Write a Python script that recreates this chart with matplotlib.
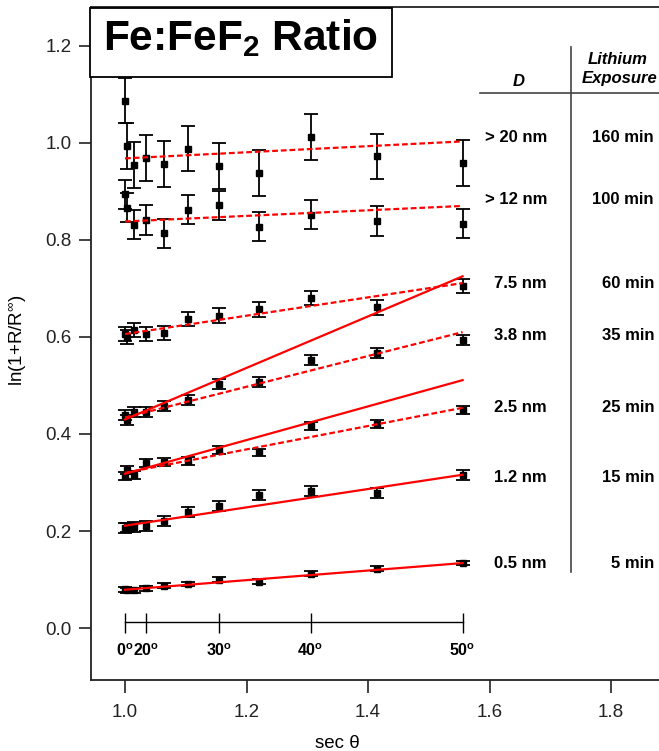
#!/usr/bin/env python3

import matplotlib
matplotlib.use('Agg')

import numpy as np
import matplotlib.pyplot as plt
from matplotlib.patches import Rectangle

# take-off angles (deg) and the angle-axis labels
angles = [0, 5, 10, 15, 20, 25, 30, 35, 40, 45, 50]
angle_ticks = [0, 15, 30, 40, 50]
angle_tick_labels = ["0", "20", "30", "40", "50"]

# ln(1+R/Rinf) per layer thickness, one value per angle
ratio_20nm = [1.087, 0.994, 0.955, 0.969, 0.957, 0.988, 0.952, 0.938, 1.012, 0.972, 0.958]
ratio_12nm = [0.894, 0.866, 0.831, 0.841, 0.814, 0.862, 0.871, 0.827, 0.852, 0.839, 0.833]
ratio_7p5nm = [0.606, 0.600, 0.614, 0.606, 0.608, 0.637, 0.644, 0.657, 0.680, 0.661, 0.705]
ratio_3p8nm = [0.439, 0.429, 0.446, 0.445, 0.457, 0.470, 0.503, 0.507, 0.552, 0.567, 0.594]
ratio_2p5nm = [0.313, 0.326, 0.316, 0.340, 0.342, 0.344, 0.367, 0.362, 0.417, 0.421, 0.449]
ratio_1p2nm = [0.206, 0.207, 0.209, 0.210, 0.221, 0.239, 0.252, 0.274, 0.282, 0.278, 0.315]
ratio_0p5nm = [0.080, 0.078, 0.078, 0.082, 0.087, 0.091, 0.100, 0.096, 0.112, 0.122, 0.134]

# error bar half-widths per series
err_20nm = 0.047
err_12nm = 0.030
err_7p5nm = 0.015
err_3p8nm = 0.010
err_2p5nm = 0.008
err_1p2nm = 0.010
err_0p5nm = 0.005

# linear fits: value at 0 deg and at 50 deg
fit_solid = {
    "0.5": (0.079, 0.134),
    "1.2": (0.211, 0.316),
    "2.5": (0.318, 0.511),
    "3.8": (0.430, 0.725),
}
fit_dashed = {
    "2.5": (0.320, 0.454),
    "3.8": (0.434, 0.610),
    "7.5": (0.606, 0.711),
    "12": (0.838, 0.870),
    "20": (0.968, 1.003),
}

thickness_labels = ["> 20 nm", "> 12 nm", "7.5 nm", "3.8 nm", "2.5 nm", "1.2 nm", "0.5 nm"]
exposure_labels = ["160 min", "100 min", "60 min", "35 min", "25 min", "15 min", "5 min"]

W, H = 659, 751


def fx(px):
    return px / W


def fy(py):
    return 1 - py / H


def sec(deg):
    return 1 / np.cos(np.radians(deg))


def main():
    plt.rcParams.update({'font.family': 'Liberation Sans'})
    plt.rcParams.update({'mathtext.fontset': 'custom'})
    plt.rcParams.update({'mathtext.rm': 'Liberation Sans'})
    plt.rcParams.update({'mathtext.it': 'Liberation Sans:italic'})
    plt.rcParams.update({'mathtext.bf': 'Liberation Sans:bold'})

    fig = plt.figure(figsize=(W / 100, H / 100), dpi=100)
    ax = fig.add_axes([fx(91), fy(680), fx(659 - 91), (680 - 7) / H])

    xs = sec(np.array(angles))
    series = [
        (ratio_20nm, err_20nm), (ratio_12nm, err_12nm), (ratio_7p5nm, err_7p5nm),
        (ratio_3p8nm, err_3p8nm), (ratio_2p5nm, err_2p5nm), (ratio_1p2nm, err_1p2nm),
        (ratio_0p5nm, err_0p5nm),
    ]
    for ys, err in series:
        ax.errorbar(xs, ys, yerr=err, fmt='s', color='black', ms=4.2,
                    elinewidth=1.3, capsize=4.8, capthick=1.3, zorder=2)

    fit_x = [sec(angles[0]), sec(angles[-1])]
    for key in fit_solid:
        ax.plot(fit_x, fit_solid[key], color='red', lw=1.6, zorder=3)
    for key in fit_dashed:
        ax.plot(fit_x, fit_dashed[key], color='red', lw=1.6, zorder=3,
                dashes=(2.6, 1.3))

    # angle scale drawn inside the plot along sec(theta)
    ax.plot([sec(angles[0]), sec(angles[-1])], [0.012, 0.012], color='black',
            lw=1.0, zorder=2)
    tick_x = sec(np.array(angle_ticks))
    ax.vlines(tick_x, -0.010, 0.031, color='black', lw=1.0, zorder=2)
    for x, lab in zip(tick_x, angle_tick_labels):
        ax.text(x, -0.046, lab + r"$^{\mathbf{o}}$", ha='center', va='center',
                fontsize=11.5, fontweight='bold')

    ax.set_xlim(0.944, 1.879)
    ax.set_ylim(-0.107, 1.280)
    ax.set_xticks([1.0, 1.2, 1.4, 1.6, 1.8])
    ax.set_yticks([0.0, 0.2, 0.4, 0.6, 0.8, 1.0, 1.2])
    ax.xaxis.set_major_formatter(matplotlib.ticker.FormatStrFormatter('%.1f'))
    ax.yaxis.set_major_formatter(matplotlib.ticker.FormatStrFormatter('%.1f'))
    ax.tick_params(direction='out', length=9, width=1.2, labelsize=13.5,
                   colors='#222222', pad=5)
    ax.tick_params(axis='x', pad=8.5)
    ax.spines['right'].set_visible(False)
    for s in ('left', 'bottom', 'top'):
        ax.spines[s].set_linewidth(1.3)
        ax.spines[s].set_color('#222222')

    ax.set_xlabel(r"sec θ", fontsize=13.5)
    ax.xaxis.set_label_coords((337 - 91) / (659 - 91), (680 - 735) / (680 - 7))
    ax.set_ylabel(r"ln(1+R/R$^{∞}$)", fontsize=13.5)
    ax.yaxis.set_label_coords((28 - 91) / (659 - 91), (680 - 340) / (680 - 7))

    # thickness / exposure table at the right
    fig.add_artist(plt.Line2D([fx(571), fx(571)], [fy(47), fy(572)],
                              color='#444444', lw=1.2))
    fig.add_artist(plt.Line2D([fx(480), fx(659)], [fy(93), fy(93)],
                              color='#444444', lw=1.2))
    fig.text(fx(519), fy(82), "D", ha='center', va='center', fontsize=12,
             fontweight='bold', fontstyle='italic')
    fig.text(fx(618), fy(60), "Lithium", ha='center', va='center', fontsize=12,
             fontweight='bold', fontstyle='italic')
    fig.text(fx(620), fy(79), "Exposure", ha='center', va='center', fontsize=12,
             fontweight='bold', fontstyle='italic')
    row_y = [137, 200, 283, 336, 407, 477, 563]
    for py, d, t in zip(row_y, thickness_labels, exposure_labels):
        fig.text(fx(547), fy(py), d, ha='right', va='center', fontsize=12,
                 fontweight='bold')
        fig.text(fx(654), fy(py), t, ha='right', va='center', fontsize=12,
                 fontweight='bold')

    # boxed title over the top-left corner
    fig.add_artist(Rectangle((fx(90), fy(77)), fx(392 - 90), (77 - 8) / H,
                             facecolor='white', edgecolor='black', lw=1.3,
                             zorder=5))
    fig.text(fx(240), fy(50), r"Fe:FeF$_{\mathbf{2}}$ Ratio", ha='center',
             va='baseline', fontsize=30.5, fontweight='bold', zorder=6)

    fig.savefig("out.png", dpi=100)
    plt.close(fig)


if __name__ == "__main__":
    main()
